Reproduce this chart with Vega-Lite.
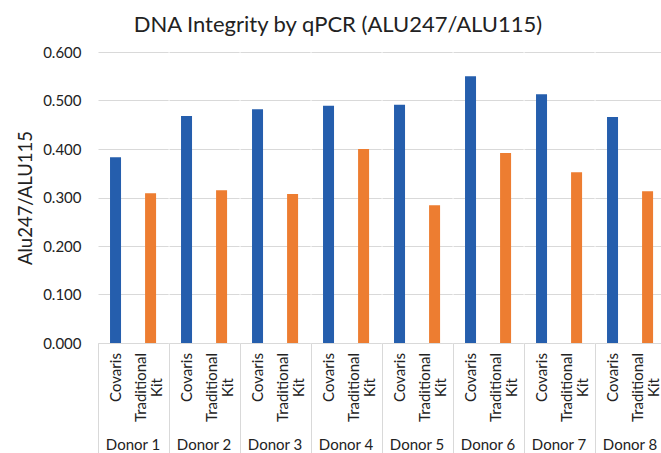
{
  "$schema": "https://vega.github.io/schema/vega-lite/v6.json",
  "padding": {"left": 16, "top": 14, "right": 0, "bottom": 0},
  "title": {"text": "DNA Integrity by qPCR (ALU247/ALU115)", "font": "Lato", "fontSize": 22, "fontWeight": "normal", "color": "#222222", "anchor": "middle", "frame": "bounds", "offset": 8, "dx": -3},
  "data": {"values": [
    {"donor": "Donor 1", "method": "Covaris", "value": 0.383},
    {"donor": "Donor 1", "method": "Traditional Kit", "value": 0.309},
    {"donor": "Donor 2", "method": "Covaris", "value": 0.468},
    {"donor": "Donor 2", "method": "Traditional Kit", "value": 0.315},
    {"donor": "Donor 3", "method": "Covaris", "value": 0.482},
    {"donor": "Donor 3", "method": "Traditional Kit", "value": 0.307},
    {"donor": "Donor 4", "method": "Covaris", "value": 0.489},
    {"donor": "Donor 4", "method": "Traditional Kit", "value": 0.400},
    {"donor": "Donor 5", "method": "Covaris", "value": 0.491},
    {"donor": "Donor 5", "method": "Traditional Kit", "value": 0.284},
    {"donor": "Donor 6", "method": "Covaris", "value": 0.550},
    {"donor": "Donor 6", "method": "Traditional Kit", "value": 0.392},
    {"donor": "Donor 7", "method": "Covaris", "value": 0.513},
    {"donor": "Donor 7", "method": "Traditional Kit", "value": 0.352},
    {"donor": "Donor 8", "method": "Covaris", "value": 0.466},
    {"donor": "Donor 8", "method": "Traditional Kit", "value": 0.313}
  ]},
  "facet": {"column": {"field": "donor", "type": "nominal", "title": null,
    "header": {"labelOrient": "bottom", "labelFont": "Lato", "labelFontSize": 15, "labelColor": "#222222", "labelPadding": -16}}},
  "spacing": 0,
  "spec": {
    "width": 70.1,
    "height": 291,
    "mark": {"type": "bar"},
    "encoding": {
      "x": {"field": "method", "type": "nominal", "sort": ["Covaris", "Traditional Kit"],
        "scale": {"paddingInner": 0.686, "paddingOuter": 0.343},
        "axis": {
          "title": null,
          "labelAngle": -90,
          "labelAlign": "center",
          "labelBaseline": "middle",
          "labelExpr": "datum.value == 'Traditional Kit' ? ['Traditional', 'Kit'] : datum.value",
          "labelFont": "Lato",
          "labelFontSize": 15,
          "labelLineHeight": 16,
          "labelColor": "#222222",
          "tickSize": 110,
          "tickOffset": -17.5,
          "labelOffset": {"condition": {"test": "datum.value == 'Covaris'", "value": 17.5}, "value": 7},
          "tickColor": {"condition": {"test": "datum.value == 'Covaris'", "value": "#d9d9d9"}, "value": "transparent"},
          "domainColor": "#d9d9d9",
          "labelPadding": {"condition": {"test": "datum.value == 'Covaris'", "value": -76}, "value": -66}
        }
      },
      "y": {"field": "value", "type": "quantitative",
        "scale": {"domain": [0, 0.6]},
        "axis": {
          "title": "Alu247/ALU115",
          "titleFont": "Lato",
          "titleFontSize": 18.5,
          "titleFontWeight": "normal",
          "titleColor": "#222222",
          "titlePadding": 7,
          "format": ".3f",
          "values": [0, 0.1, 0.2, 0.3, 0.4, 0.5, 0.6],
          "domain": false,
          "ticks": false,
          "labelPadding": 17,
          "labelFont": "Lato",
          "labelFontSize": 15,
          "labelColor": "#222222",
          "gridColor": "#d9d9d9"
        }
      },
      "color": {"field": "method", "type": "nominal", "legend": null,
        "scale": {"domain": ["Covaris", "Traditional Kit"], "range": ["#255EAD", "#ED7D31"]}}
    }
  },
  "config": {"view": {"stroke": null}, "font": "Lato"}
}
